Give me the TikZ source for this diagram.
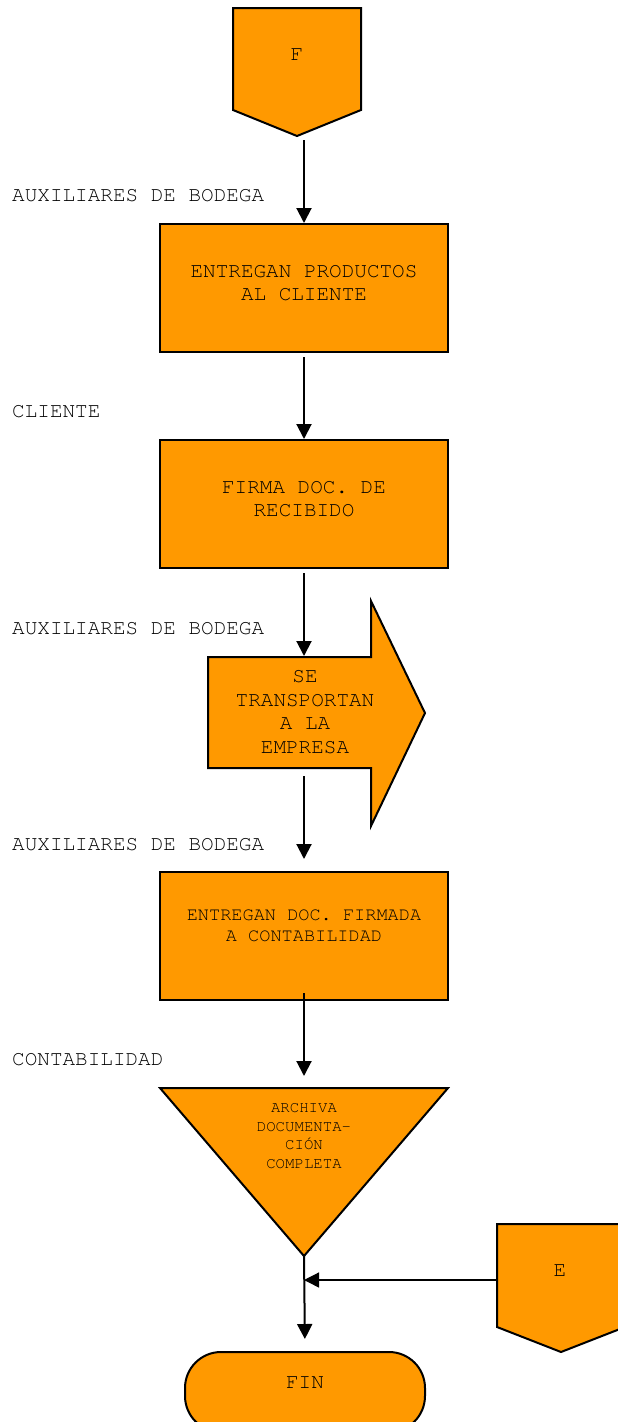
\documentclass[tikz,border=0pt]{standalone}
\usepackage{fontspec}
\usetikzlibrary{arrows.meta}
\newfontfamily\mono{texgyrecursor-regular.otf}
\definecolor{flow}{RGB}{255,153,0}
\newcommand{\bigtxt}{\mono\fontsize{21}{23.5}\selectfont}
\newcommand{\midtxt}{\mono\fontsize{18.6}{21}\selectfont}
\newcommand{\smalltxt}{\mono\fontsize{15.7}{18.5}\selectfont}
\begin{document}
\begin{tikzpicture}[x=1pt,y=-1pt,
  fig/.style={draw=black,fill=flow,line width=2pt,line join=miter},
  box/.style={fig,rectangle,minimum width=288pt,minimum height=128pt,inner sep=0pt},
  txt/.style={align=center,inner sep=0pt,text=black},
  role/.style={anchor=west,inner sep=0pt,font=\bigtxt,text=black},
  conn/.style={line width=2pt,-{Triangle[width=15pt,length=15pt]}},
  thin conn/.style={line width=1.3pt,-{Triangle[width=15pt,length=15pt]}}]
\useasboundingbox (0,0) rectangle (618,1422);

% off-page connector F
\draw[fig] (233,8) -- (361,8) -- (361,110) -- (297,136) -- (233,110) -- cycle;
\coordinate (Fpt) at (297,136);
\node[txt,font=\bigtxt] (Ft) at (297,55) {F};

% process boxes
\node[box] (B1) at (304,288) {};
\node[txt,font=\bigtxt] (B1t) at (304,283) {ENTREGAN PRODUCTOS\\AL CLIENTE};
\node[box] (B2) at (304,504) {};
\node[txt,font=\bigtxt] (B2t) at (304,499) {FIRMA DOC. DE\\RECIBIDO};

% transport arrow
\draw[fig] (208,657) coordinate (Atop) -- (371,657) -- (371,601) -- (425,713)
  -- (371,826) -- (371,768) -- (208,768) coordinate (Abot) -- cycle;
\node[txt,font=\bigtxt] (At) at (305,712) {SE\\TRANSPORTAN\\A LA\\EMPRESA};

\node[box] (B3) at (304,936) {};
\node[txt,font=\midtxt] (B3t) at (304,926) {ENTREGAN DOC. FIRMADA\\A CONTABILIDAD};

% archive triangle
\draw[fig] (160,1088) coordinate (Ttop) -- (448,1088) -- (304,1256) coordinate (Tapex) -- cycle;
\node[txt,font=\smalltxt] (Tt) at (304,1136) {ARCHIVA\\DOCUMENTA-\\CIÓN\\COMPLETA};

% off-page connector E
\draw[fig] (497,1224) -- (625,1224) -- (625,1327) -- (561,1352) -- (497,1327) -- cycle;
\coordinate (Eleft) at (497,1280);
\node[txt,font=\bigtxt] (Et) at (560,1271) {E};

% terminator
\node[fig,rectangle,rounded corners=36pt,minimum width=240pt,minimum height=80pt,inner sep=0pt] (FIN) at (305,1392) {};
\node[txt,font=\bigtxt] (FINt) at (305,1383) {FIN};

% role labels
\node[role] (L1) at (12,196) {AUXILIARES DE BODEGA};
\node[role] (L2) at (12,412) {CLIENTE};
\node[role] (L3) at (12,629) {AUXILIARES DE BODEGA};
\node[role] (L4) at (12,845) {AUXILIARES DE BODEGA};
\node[role] (L5) at (12,1060) {CONTABILIDAD};

% connectors
\draw[conn,shorten <=4pt] (B1.north |- Fpt) -- (B1.north);
\draw[conn,shorten <=4pt] (B1.south) -- (B2.north);
\draw[conn,shorten <=4pt,shorten >=1pt] (B2.south) -- (B2.south |- Atop);
\draw[conn,shorten <=8pt,shorten >=12pt] (B2.south |- Abot) -- (B3.north);
\draw[conn,shorten <=-8pt,shorten >=12pt] (B3.south) -- (B3.south |- Ttop);
\draw[conn,shorten >=12pt] (Tapex) -- (FIN.north);
\draw[thin conn] (Eleft) -- (Tapex |- Eleft);
\end{tikzpicture}
\end{document}
